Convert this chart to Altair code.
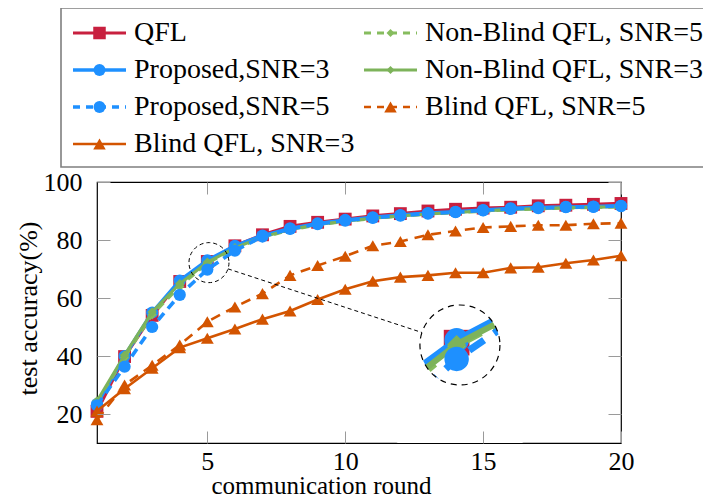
import math
import altair as alt
import pandas as pd

# ---------------- data ----------------
rounds = list(range(1, 21))
qfl    = [20.9, 39.8, 54.0, 65.7, 72.6, 78.0, 81.8, 84.7, 86.1, 87.2, 88.3, 89.1, 90.0, 90.6, 91.0, 91.3, 91.8, 92.0, 92.3, 92.6]
prop3  = [23.4, 40.0, 55.0, 66.0, 73.0, 78.0, 81.5, 84.0, 85.7, 86.9, 87.8, 88.6, 89.3, 89.7, 90.3, 90.9, 91.2, 91.4, 91.5, 91.8]
prop5  = [23.0, 36.3, 50.0, 61.1, 69.8, 76.3, 81.2, 83.8, 85.5, 86.7, 87.6, 88.4, 89.1, 89.6, 90.2, 90.7, 91.0, 91.3, 91.4, 91.7]
nb5    = [24.0, 39.5, 54.2, 64.0, 72.0, 77.0, 80.8, 83.4, 85.2, 86.4, 87.4, 88.2, 88.9, 89.4, 89.9, 90.4, 90.7, 91.0, 91.2, 91.4]
nb3    = [24.5, 40.3, 55.2, 64.9, 72.3, 77.3, 81.0, 83.6, 85.3, 86.5, 87.5, 88.3, 89.0, 89.5, 90.0, 90.5, 90.8, 91.1, 91.3, 91.5]
blind5 = [18.0, 30.0, 36.8, 43.8, 51.8, 56.9, 61.5, 67.8, 71.2, 74.4, 78.0, 79.5, 81.8, 83.1, 84.3, 84.7, 85.1, 85.1, 85.6, 85.8]
blind3 = [21.0, 28.7, 35.8, 42.9, 46.1, 49.3, 52.7, 55.5, 59.5, 63.0, 65.8, 67.2, 67.8, 68.7, 68.7, 70.4, 70.6, 72.0, 73.1, 74.6]

x_ticks = [5, 10, 15, 20]
y_ticks = [20, 40, 60, 80, 100]

series_values = {
    "QFL": qfl,
    "Proposed,SNR=3": prop3,
    "Proposed,SNR=5": prop5,
    "Blind QFL, SNR=3": blind3,
    "Non-Blind QFL, SNR=5": nb5,
    "Non-Blind QFL, SNR=3": nb3,
    "Blind QFL, SNR=5": blind5,
}
# legend layout (column-major, as in the reference)
legend_columns = [
    ["QFL", "Proposed,SNR=3", "Proposed,SNR=5", "Blind QFL, SNR=3"],
    ["Non-Blind QFL, SNR=5", "Non-Blind QFL, SNR=3", "Blind QFL, SNR=5"],
]
draw_order = ["QFL", "Proposed,SNR=3", "Non-Blind QFL, SNR=5", "Non-Blind QFL, SNR=3",
              "Proposed,SNR=5", "Blind QFL, SNR=5", "Blind QFL, SNR=3"]
inset_series = ["QFL", "Proposed,SNR=3", "Non-Blind QFL, SNR=5", "Non-Blind QFL, SNR=3", "Proposed,SNR=5"]
inset_rounds = [4, 5, 6]

# ---------------- styles ----------------
RED, BLUE, GREEN, GREEN2, ORANGE = "#C8203F", "#1E90FF", "#86BC5E", "#7DB35A", "#D35400"
STYLE = {
    "QFL":                  dict(color=RED,    dash=None,    shape="square",      size=165, width=3.2),
    "Proposed,SNR=3":       dict(color=BLUE,   dash=None,    shape="circle",      size=150, width=3.6),
    "Proposed,SNR=5":       dict(color=BLUE,   dash=[9, 6],  shape="circle",      size=150, width=3.6),
    "Non-Blind QFL, SNR=5": dict(color=GREEN,  dash=[8, 6],  shape="diamond",     size=90,  width=3.0),
    "Non-Blind QFL, SNR=3": dict(color=GREEN2, dash=None,    shape="diamond",     size=90,  width=3.0),
    "Blind QFL, SNR=5":     dict(color=ORANGE, dash=[10, 7], shape="triangle-up", size=165, width=2.6),
    "Blind QFL, SNR=3":     dict(color=ORANGE, dash=None,    shape="triangle-up", size=165, width=2.6),
}
FONT = "Liberation Serif, Times New Roman, Times, serif"

W, H = 524, 261
XMIN, XMAX = 1, 20
YMIN, YMAX = 10, 100

# spy (magnifier) parameters
SPY_X, SPY_Y = 5.06, 72.2      # zoomed location
SPY_TX, SPY_TY = 14.16, 43.8   # where the magnified view sits
MAG = 2
R_SMALL = 20
R_BIG = R_SMALL * MAG

def long_df(names, keep_rounds=None):
    rows = []
    for n in names:
        for r, v in zip(rounds, series_values[n]):
            if keep_rounds is None or r in keep_rounds:
                rows.append({"round": r, "acc": v, "series": n})
    return pd.DataFrame(rows)

# ---------------- main plot ----------------
x_main = alt.X("round:Q",
               scale=alt.Scale(domain=[XMIN, XMAX], nice=False, zero=False),
               axis=alt.Axis(values=x_ticks, title="communication round", ticks=False, domain=False,
                             grid=True, gridDash=[12, H - 24], gridColor="#9a9a9a", gridWidth=1,
                             labelFont=FONT, labelFontSize=26, labelColor="black", labelPadding=5,
                             labelFlush=False, titleFont=FONT, titleFontSize=25,
                             titleFontWeight="normal", titleColor="black", titlePadding=-1,
                             titleX=224, titleAlign="center", zindex=1))
y_main = alt.Y("acc:Q",
               scale=alt.Scale(domain=[YMIN, YMAX], nice=False, zero=False),
               axis=alt.Axis(values=y_ticks, title="test accuracy(%)", ticks=False, domain=False,
                             grid=True, gridDash=[13, W - 26], gridColor="#9a9a9a", gridWidth=1,
                             labelFont=FONT, labelFontSize=26, labelColor="black", labelPadding=15,
                             labelFlush=False, titleFont=FONT, titleFontSize=26,
                             titleFontWeight="normal", titleColor="black", titlePadding=2,
                             titleY=126, titleAlign="center", zindex=1))

main_layers = []
for n in draw_order:
    st = STYLE[n]
    d = long_df([n])
    lk = dict(color=st["color"], strokeWidth=st["width"])
    if st["dash"]:
        lk["strokeDash"] = st["dash"]
    main_layers.append(alt.Chart(d).mark_line(**lk).encode(x=x_main, y=y_main))
    main_layers.append(alt.Chart(d).mark_point(filled=True, shape=st["shape"], size=st["size"],
                                               color=st["color"], opacity=1, strokeWidth=0)
                       .encode(x=x_main, y=y_main))

# small dashed circle at zoomed spot
spy_df = pd.DataFrame({"round": [SPY_X], "acc": [SPY_Y]})
main_layers.append(alt.Chart(spy_df).mark_point(shape="circle", filled=False, size=(2 * R_SMALL) ** 2,
                                                color="black", strokeWidth=1, strokeDash=[4, 3], opacity=1)
                   .encode(x=x_main, y=y_main))
# connector between circles
kx = W / (XMAX - XMIN)
ky = H / (YMAX - YMIN)
L = math.hypot((SPY_TX - SPY_X) * kx, (SPY_TY - SPY_Y) * ky)
f1, f2 = R_SMALL / L, 1 - R_BIG / L
conn_df = pd.DataFrame({
    "round": [SPY_X + (SPY_TX - SPY_X) * f1], "acc": [SPY_Y + (SPY_TY - SPY_Y) * f1],
    "round2": [SPY_X + (SPY_TX - SPY_X) * f2], "acc2": [SPY_Y + (SPY_TY - SPY_Y) * f2],
})
main_layers.append(alt.Chart(conn_df).mark_rule(color="black", strokeWidth=1, strokeDash=[4, 3])
                   .encode(x=x_main, y=y_main, x2="round2:Q", y2="acc2:Q"))
main_group = alt.layer(*main_layers)

# ---------------- magnified inset ----------------
ix_dom = [SPY_X - (SPY_TX - XMIN) / MAG, SPY_X + (XMAX - SPY_TX) / MAG]
iy_dom = [SPY_Y - (SPY_TY - YMIN) / MAG, SPY_Y + (YMAX - SPY_TY) / MAG]
x_in = alt.X("round:Q", scale=alt.Scale(domain=ix_dom, nice=False, zero=False), axis=None)
y_in = alt.Y("acc:Q", scale=alt.Scale(domain=iy_dom, nice=False, zero=False), axis=None)

inset_layers = []
for n in inset_series:
    st = STYLE[n]
    d = long_df([n], inset_rounds)
    lk = dict(color=st["color"], strokeWidth=st["width"] * MAG, clip=True)
    if st["dash"]:
        lk["strokeDash"] = [v * MAG for v in st["dash"]]
    inset_layers.append(alt.Chart(d).mark_line(**lk).encode(x=x_in, y=y_in))
    inset_layers.append(alt.Chart(d).mark_point(filled=True, shape=st["shape"], size=st["size"] * MAG * MAG,
                                                color=st["color"], opacity=1, strokeWidth=0, clip=True)
                        .encode(x=x_in, y=y_in))
RING_IN, RING_OUT = R_BIG, 116
inset_layers.append(alt.Chart(spy_df).mark_point(shape="circle", filled=False,
                                                 size=(RING_IN + RING_OUT) ** 2, color="white",
                                                 strokeWidth=RING_OUT - RING_IN, opacity=1, clip=True)
                    .encode(x=x_in, y=y_in))
inset_layers.append(alt.Chart(spy_df).mark_point(shape="circle", filled=False, size=(2 * R_BIG) ** 2,
                                                 color="black", strokeWidth=1.2, strokeDash=[6, 5], opacity=1)
                    .encode(x=x_in, y=y_in))
inset_group = alt.layer(*inset_layers)

# ---------------- legend (drawn above the plot) ----------------
BOX_L, BOX_R, BOX_T, BOX_B = -36, 611, -174, -15
ROW0, ROW_STEP = -149, 37
COL_X = [-24, 267]
LINE_LEN, TEXT_GAP = 53, 61

def lscale_x():
    return alt.Scale(domain=[BOX_L, BOX_R], range=[BOX_L, BOX_R], nice=False, zero=False)

def lscale_y():
    return alt.Scale(domain=[BOX_T, BOX_B], range=[BOX_T, BOX_B], nice=False, zero=False)

def LX(field):
    return alt.X(field, type="quantitative", scale=lscale_x(), axis=None)

def LY(field):
    return alt.Y(field, type="quantitative", scale=lscale_y(), axis=None)

leg_layers = [alt.Chart(pd.DataFrame({"lx": [BOX_L], "lx2": [BOX_R], "ly": [BOX_T], "ly2": [BOX_B]}))
              .mark_rect(fill="white", stroke="#7f7f7f", strokeWidth=1.6)
              .encode(x=LX("lx"), x2="lx2:Q", y=LY("ly"), y2="ly2:Q")]
for c, col in enumerate(legend_columns):
    for r, n in enumerate(col):
        st = STYLE[n]
        x0 = COL_X[c]
        y0 = ROW0 + r * ROW_STEP
        ld = pd.DataFrame({"lx": [x0], "lx2": [x0 + LINE_LEN], "ly": [y0],
                           "lm": [x0 + LINE_LEN / 2], "lt": [x0 + TEXT_GAP], "label": [n]})
        rk = dict(color=st["color"], strokeWidth=st["width"])
        if st["dash"]:
            rk["strokeDash"] = [7, 6]
        leg_layers.append(alt.Chart(ld).mark_rule(**rk).encode(x=LX("lx"), x2="lx2:Q", y=LY("ly")))
        leg_layers.append(alt.Chart(ld).mark_point(filled=True, shape=st["shape"],
                                                   size=st["size"] * (0.7 if st["shape"] == "diamond" else 0.95),
                                                   color=st["color"], opacity=1, strokeWidth=0)
                          .encode(x=LX("lm"), y=LY("ly")))
        leg_layers.append(alt.Chart(ld).mark_text(align="left", baseline="middle", font=FONT, fontSize=28,
                                                  color="black")
                          .encode(x=LX("lt"), y=LY("ly"), text="label:N"))
legend_group = alt.layer(*leg_layers)

chart = (alt.layer(inset_group, main_group, legend_group)
         .resolve_scale(x="independent", y="independent")
         .properties(width=W, height=H,
                     padding={"left": 89, "top": 174, "right": 82, "bottom": 60},
                     autosize=alt.AutoSizeParams(type="none"))
         .configure_view(stroke="black", strokeWidth=1.2))

chart.save("out.html", embed_options={"renderer": "svg", "actions": False})
